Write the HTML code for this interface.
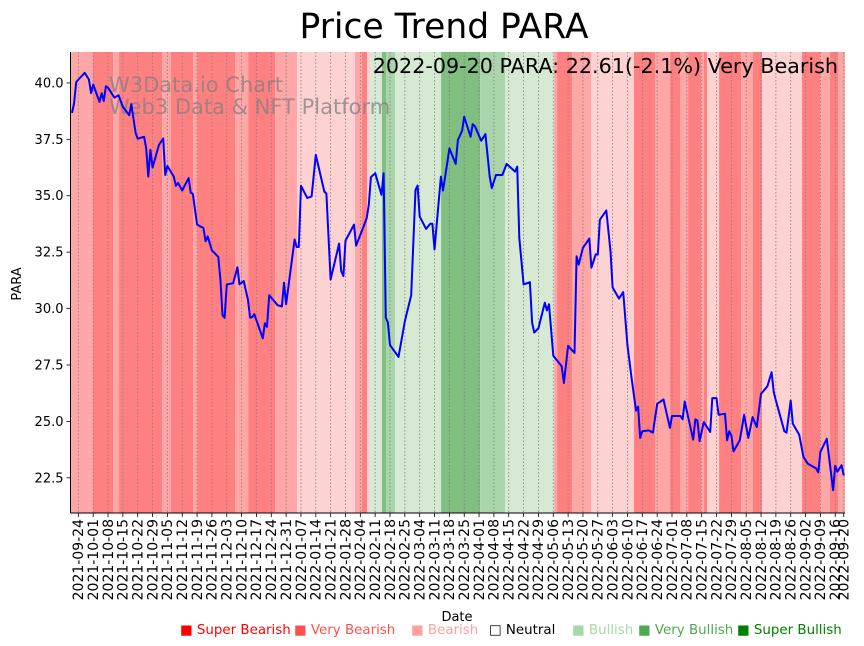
<!DOCTYPE html>
<html><head><meta charset="utf-8">
<style>
html,body{margin:0;padding:0;background:#fff;}
svg{display:block;font-family:"DejaVu Sans","Liberation Sans",sans-serif;}
</style></head>
<body>
<svg id="chart" width="864" height="646" viewBox="0 0 864 646" xmlns="http://www.w3.org/2000/svg">
<text x="444" y="38" font-size="34.5" text-anchor="middle" fill="#000">Price Trend PARA</text>
<g id="bands"></g>
<g id="grid"></g>
<g id="wm">
<text x="109" y="92" font-size="21" fill="#808080" fill-opacity="0.75">W3Data.io Chart</text>
<text x="109" y="114" font-size="21" fill="#808080" fill-opacity="0.75">Web3 Data &amp; NFT Platform</text>
</g>
<path id="line" fill="none" stroke="#0000ff" stroke-width="2" stroke-linejoin="round"/>
<text x="838" y="73" font-size="20.7" text-anchor="end" fill="#000">2022-09-20 PARA: 22.61(-2.1%) Very Bearish</text>
<g id="axes"></g>
<text transform="translate(21,284) rotate(-90)" font-size="13" text-anchor="middle">PARA</text>
<text x="457" y="621" font-size="13" text-anchor="middle">Date</text>
<g id="legend"></g>
</svg>
<script>
// price data: day offset from 2021-09-24, price
const days = [-3,-2,-1,3,5,6,7,10,11,12,13,14,17,19,21,24,25,27,28,31,32,33,34,35,38,40,41,42,45,46,47,49,52,53,54,56,59,60,61,63,66,67,68,69,70,73,75,76,78,80,81,82,83,87,88,89,90,94,96,97,98,102,103,104,105,108,110,112,116,117,119,123,124,125,126,130,131,134,136,137,138,140,143,144,145,146,147,151,154,157,159,160,161,164,166,167,168,171,172,174,175,178,179,181,182,185,186,187,190,192,194,195,197,200,202,206,207,208,210,213,214,215,217,220,221,222,224,228,229,231,234,235,236,238,241,242,244,245,246,249,251,252,255,257,259,261,263,264,265,266,269,271,273,276,279,280,284,285,286,290,291,292,293,295,298,299,301,302,305,306,307,308,309,312,314,316,318,320,322,325,327,328,329,333,334,336,337,340,342,344,348,349,350,353,356,357,358,360,361];
const prices = [38.67,39.10,40.04,40.45,40.15,39.55,39.93,39.16,39.55,39.20,39.85,39.79,39.35,39.45,38.94,38.57,39.06,37.79,37.53,37.61,37.10,35.85,37.03,36.25,37.25,37.54,35.92,36.32,35.85,35.44,35.57,35.23,35.78,35.14,35.09,33.72,33.57,32.98,33.20,32.58,32.29,31.29,29.70,29.59,31.07,31.12,31.83,31.07,31.22,30.38,29.60,29.62,29.75,28.68,29.35,29.19,30.59,30.15,30.09,31.15,30.19,33.06,32.73,32.73,35.44,34.90,34.97,36.81,35.19,35.09,31.29,32.88,31.66,31.44,33.01,33.72,32.79,33.50,34.01,34.60,35.82,36.00,35.04,36.00,29.60,29.38,28.38,27.86,29.45,30.59,35.26,35.45,34.08,33.53,33.76,33.76,32.62,35.85,35.23,36.47,37.10,36.41,37.47,37.88,38.50,37.61,38.17,38.09,37.44,37.73,35.85,35.34,35.92,35.92,36.41,36.07,36.29,33.13,31.07,31.17,29.38,28.94,29.12,30.26,29.92,30.19,27.91,27.44,26.70,28.35,28.03,32.32,31.95,32.69,33.10,31.81,32.40,32.40,33.94,34.35,32.54,30.94,30.44,30.73,28.35,26.88,25.48,25.65,24.27,24.56,24.60,24.50,25.78,25.97,24.71,25.24,25.24,25.09,25.88,24.19,25.09,25.04,24.12,24.97,24.53,26.03,26.03,25.29,25.34,24.16,24.56,24.38,23.67,24.16,25.29,24.27,25.19,24.75,26.22,26.56,27.18,26.29,25.92,24.56,24.50,25.92,24.90,24.41,23.43,23.13,22.91,22.74,23.65,24.23,21.95,23.03,22.77,23.06,22.61];
// sentiment bands: start day offsets and levels (-3 super bearish .. 3 super bullish)
const bandStarts = [-3.7,6.9,16.4,19.2,39.5,43.7,54.1,56,73.9,80.1,92.8,103.2,130.5,133.8,136.2,137.6,143.2,145.1,149.4,171.1,189.5,201.3,224.4,225.8,232.9,241.8,262.1,272,279.1,283.8,287.6,293.7,295.1,296.5,302.2,312.6,318.2,322.5,341.3,349.8,354.5,358.3];
const bandLevels = [-2,-3,-2,-3,-2,-3,-2,-3,-2,-3,-2,-1,-2,-3,-1,1,3,2,1,3,2,1,-2,-3,-2,-1,-3,-2,-3,-2,-3,-2,-3,-1,-3,-2,-3,-1,-3,-2,-3,-2];
const yTicks = [22.5,25.0,27.5,30.0,32.5,35.0,37.5,40.0];
const legendLabels = ["Super Bearish","Very Bearish","Bearish","Neutral","Bullish","Very Bullish","Super Bullish"];

const X0=70.5, X1=845, Y0=52, Y1=513;
const dMin=-3.7, dMax=361.6, vMin=20.94, vMax=41.37;
const xs = d => X0 + (d-dMin)/(dMax-dMin)*(X1-X0);
const ys = v => Y1 - (v-vMin)/(vMax-vMin)*(Y1-Y0);
const NS="http://www.w3.org/2000/svg";
const bandColor = {"-3":"#ff8080","-2":"#ffa6a6","-1":"#ffd2d2","0":"#ffffff","1":"#d5e9d3","2":"#aad4aa","3":"#80bf80"};
const legendColor = ["#ff0000","#ff5050","#ffa0a0","#000000","#a8d8a8","#50a850","#008000"];
const legendX = [180,294,411,489,572,638,737];
function mk(tag,attrs,parent){const e=document.createElementNS(NS,tag);for(const k in attrs)e.setAttribute(k,attrs[k]);parent.appendChild(e);return e;}

const bandsG=document.getElementById('bands');
bandStarts.forEach((s,i)=>{
  const e = i+1<bandStarts.length ? bandStarts[i+1] : dMax;
  const r=mk('rect',{x:xs(s),y:Y0,width:xs(e)-xs(s),height:Y1-Y0,fill:bandColor[bandLevels[i]]},bandsG);
  
  
});

const base=new Date(Date.UTC(2021,8,24));
const fmt=d=>{const t=new Date(base.getTime()+d*86400000);return t.toISOString().slice(0,10);};
const tickDays=[];for(let d=0;d<=357;d+=7)tickDays.push(d);tickDays.push(361);
const gridG=document.getElementById('grid'), axesG=document.getElementById('axes');
tickDays.forEach(d=>{
  const x=xs(d);
  const g=mk('line',{x1:x,x2:x,y1:Y0,y2:Y1,stroke:'#808080','stroke-width':0.8,'stroke-dasharray':'1.5,2'},gridG);
  
  
  mk('line',{x1:x,x2:x,y1:Y1,y2:Y1+4,stroke:'#000','stroke-width':0.8},axesG);
  const t=mk('text',{transform:`translate(${x+4.8},${Y1+6}) rotate(-90)`,'font-size':14,'text-anchor':'end'},axesG);
  t.textContent=fmt(d);
  
  
});
yTicks.forEach(v=>{
  const y=ys(v);
  mk('line',{x1:X0-4,x2:X0,y1:y,y2:y,stroke:'#000','stroke-width':0.8},axesG);
  const t=mk('text',{x:X0-7,y:y+4.5,'font-size':13,'text-anchor':'end'},axesG);
  t.textContent=v.toFixed(1);
  
  
});
mk('line',{x1:X0,x2:X0,y1:Y0,y2:Y1,stroke:'#000','stroke-width':1},axesG);
mk('line',{x1:X0,x2:X1,y1:Y1,y2:Y1,stroke:'#000','stroke-width':1},axesG);

document.getElementById('line').setAttribute('d',days.map((d,i)=>(i?'L':'M')+xs(d).toFixed(1)+','+ys(prices[i]).toFixed(1)).join(''));

const legG=document.getElementById('legend');
legendLabels.forEach((lab,i)=>{
  const t=mk('text',{x:legendX[i],y:634,'font-size':13.4,fill:legendColor[i]},legG);
  t.textContent=(i===3?'\u25A1 ':'\u25A0 ')+lab;
  
  
});
</script>
</body></html>
